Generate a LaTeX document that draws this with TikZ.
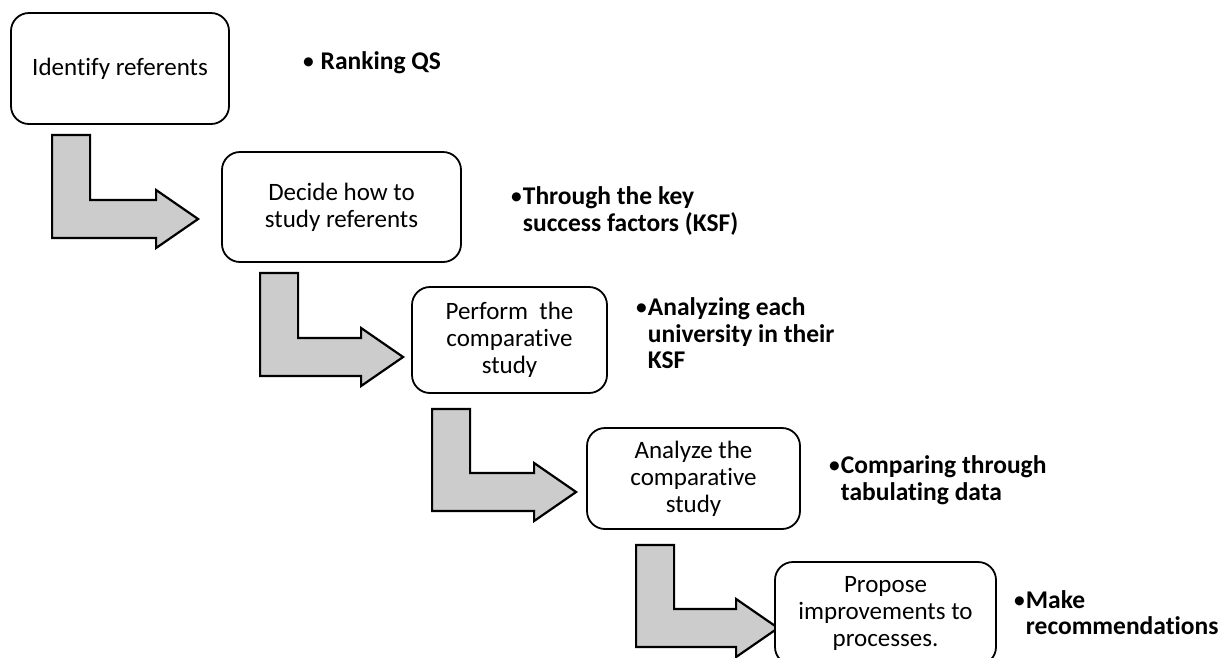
\documentclass[tikz,border=0pt]{standalone}
\usepackage{fontspec}
\setmainfont{Carlito}[Ligatures=NoCommon]
\usetikzlibrary{calc,backgrounds}

\tikzset{
    stepbox/.style={draw, line width=1.8pt, rounded corners=18pt, fill=white,
        align=center, inner sep=2pt, font=\fontsize{25}{27}\selectfont},
    note/.style={anchor=west, align=left, inner sep=0pt,
        font=\fontsize{25.5}{26.5}\selectfont\bfseries},
    blockarrow/.style={draw, fill=black!20, line width=2.2pt, line join=miter}
}

% small bullet of the notes
\newcommand{\dotmark}{{\mdseries\textbullet}}

% bent block arrow: #1 top left of the stem, #2 tip of the head
\newcommand{\bentarrow}[2]{%
    \path[blockarrow] let \p1=(#1), \p2=(#2) in
        (\x1,\y1) -- (\x1+38pt,\y1) -- (\x1+38pt,\y2+19pt) -- (\x2-42pt,\y2+19pt)
        -- (\x2-42pt,\y2+29pt) -- (\x2,\y2) -- (\x2-42pt,\y2-29pt)
        -- (\x2-42pt,\y2-19pt) -- (\x1,\y2-19pt) -- cycle;}

\begin{document}
\begin{tikzpicture}[x=1pt,y=1pt]
    \useasboundingbox (0,0) rectangle (1229,-657);
    % Steps
    \node[stepbox, minimum width=218pt, minimum height=111pt] (identify) at (120,-68.5) {Identify referents};
    \node[stepbox, minimum width=239pt, minimum height=110pt] (decide) at (341.5,-207) {Decide how to\\study referents};
    \node[stepbox, minimum width=195pt, minimum height=106pt] (perform) at (509.5,-340) {Perform~ the\\comparative\\study};
    \node[stepbox, minimum width=213pt, minimum height=101pt] (analyze) at (693.5,-478.5) {Analyze the\\comparative\\study};
    \node[stepbox, minimum width=221pt, minimum height=103pt] (propose) at (885.5,-613.5) {Propose\\improvements to\\processes.};
    % Notes
    \node[note] (ranking) at (302,-63) {\dotmark\ Ranking QS};
    \node[note] (ksf) at (510,-211) {\dotmark Through the key\\\hphantom{\dotmark}success factors (KSF)};
    \node[note] (each) at (635,-333.5) {\dotmark Analyzing each\\\hphantom{\dotmark}university in their\\\hphantom{\dotmark}KSF};
    \node[note] (tabulate) at (828,-480) {\dotmark Comparing through\\\hphantom{\dotmark}tabulating data};
    \node[note] (recommend) at (1013,-612.5) {\dotmark Make\\\hphantom{\dotmark}recommendations};
    % Arrow ends
    \coordinate (s1) at ($(identify.south west)+(42,-10)$);
    \coordinate (t1) at ($(decide.west)+(-23,-12)$);
    \coordinate (s2) at ($(decide.south west)+(39,-10)$);
    \coordinate (t2) at ($(perform.west)+(-8,-17)$);
    \coordinate (s3) at ($(perform.south west)+(21,-15)$);
    \coordinate (t3) at ($(analyze.west)+(-10,-13.5)$);
    \coordinate (s4) at ($(analyze.south west)+(50,-15)$);
    \coordinate (t4) at ($(propose.west)+(4,-14.5)$);
    % Arrows
    \begin{scope}[on background layer]
        \bentarrow{s1}{t1}
        \bentarrow{s2}{t2}
        \bentarrow{s3}{t3}
        \bentarrow{s4}{t4}
    \end{scope}
\end{tikzpicture}
\end{document}
